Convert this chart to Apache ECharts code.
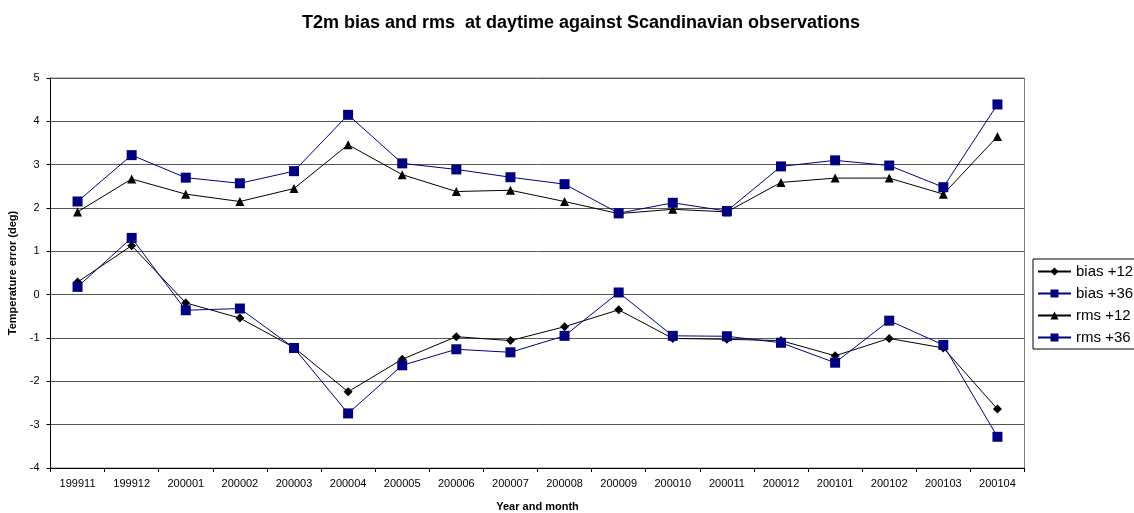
<!DOCTYPE html>
<html>
<head>
<meta charset="utf-8">
<script src="https://cdn.jsdelivr.net/npm/echarts@6/dist/echarts.min.js"></script>
<style>html,body{margin:0;padding:0;background:#fff;}#c{width:1134px;height:513px;}</style>
</head>
<body>
<div id="c"></div>
<script>
const categories = ['199911','199912','200001','200002','200003','200004','200005','200006','200007','200008','200009','200010','200011','200012','200101','200102','200103','200104'];
const bias12 = [0.29, 1.13, -0.19, -0.54, -1.22, -2.24, -1.49, -0.97, -1.06, -0.74, -0.35, -1.01, -1.03, -1.06, -1.41, -1.01, -1.23, -2.64];
const bias36 = [0.18, 1.31, -0.36, -0.32, -1.23, -2.74, -1.63, -1.26, -1.33, -0.95, 0.05, -0.95, -0.96, -1.11, -1.57, -0.60, -1.16, -3.28];
const rms12 = [1.91, 2.67, 2.32, 2.15, 2.45, 3.46, 2.77, 2.38, 2.41, 2.15, 1.87, 1.97, 1.91, 2.59, 2.69, 2.69, 2.32, 3.65];
const rms36 = [2.15, 3.22, 2.70, 2.57, 2.85, 4.15, 3.03, 2.89, 2.71, 2.55, 1.88, 2.12, 1.93, 2.96, 3.10, 2.98, 2.48, 4.39];
const yTicks = { min: -4, max: 5, interval: 1 };

const chart = echarts.init(document.getElementById('c'));
const font = 'Liberation Sans, Arial, sans-serif';
function ser(name, data, color, symbol, size) {
  return {
    name, type: 'line', data, symbol, symbolSize: size,
    lineStyle: { color, width: 1 },
    itemStyle: { color, borderColor: color, borderWidth: 0 },
    emphasis: { disabled: true },
    animation: false
  };
}
chart.setOption({
  animation: false,
  backgroundColor: '#fff',
  title: {
    text: 'T2m bias and rms  at daytime against Scandinavian observations',
    left: 576, top: 9, textAlign: 'center',
    textStyle: { fontFamily: font, fontSize: 18, fontWeight: 'bold', color: '#000' }
  },
  legend: {
    orient: 'vertical', left: 1033, top: 259,
    borderColor: '#000', borderWidth: 1, padding: [5, 6, 4, 4],
    itemWidth: 33, itemHeight: 10, itemGap: 7,
    textStyle: { fontFamily: font, fontSize: 15, color: '#000' },
    data: ['bias +12', 'bias +36', 'rms +12', 'rms +36']
  },
  grid: { left: 50.5, top: 78, width: 974, height: 390, show: true, borderColor: '#808080', borderWidth: 1, containLabel: false, outerBoundsMode: 'none' },
  xAxis: {
    type: 'category', data: categories, boundaryGap: true,
    name: 'Year and month', nameLocation: 'middle', nameGap: 33,
    nameTextStyle: { fontFamily: font, fontSize: 11, fontWeight: 'bold', color: '#000' },
    axisLine: { onZero: false, lineStyle: { color: '#000', width: 1 } },
    axisTick: { show: true, alignWithLabel: false, length: 4, lineStyle: { color: '#000' } },
    axisLabel: { fontFamily: font, fontSize: 11, color: '#000', margin: 10, interval: 0 },
    splitLine: { show: false }
  },
  yAxis: {
    type: 'value', min: yTicks.min, max: yTicks.max, interval: yTicks.interval,
    name: 'Temperature error (deg)', nameLocation: 'middle', nameGap: 30, nameRotate: 90,
    nameTextStyle: { fontFamily: font, fontSize: 11, fontWeight: 'bold', color: '#000' },
    axisLine: { show: true, lineStyle: { color: '#000', width: 1 } },
    axisTick: { show: true, length: 4, lineStyle: { color: '#000' } },
    axisLabel: { fontFamily: font, fontSize: 11, color: '#000', margin: 11 },
    splitLine: { show: true, lineStyle: { color: '#555', width: 1 } }
  },
  series: [
    ser('bias +12', bias12, '#000000', 'diamond', 9),
    ser('bias +36', bias36, '#000080', 'rect', 10),
    ser('rms +12', rms12, '#000000', 'triangle', 9),
    ser('rms +36', rms36, '#000080', 'rect', 10)
  ]
});
</script>
</body>
</html>
